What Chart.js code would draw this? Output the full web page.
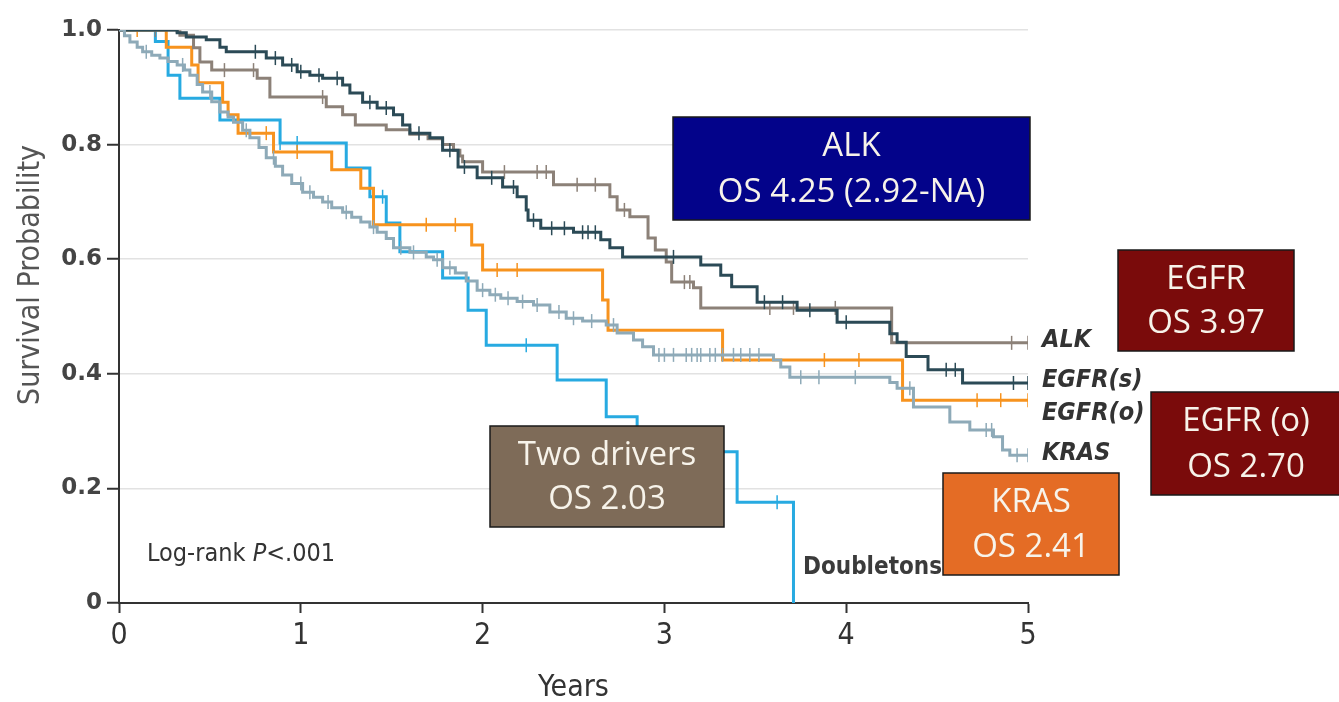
<!DOCTYPE html>
<html>
<head>
<meta charset="utf-8">
<script src="https://cdn.jsdelivr.net/npm/chart.js@4"></script>
<style>
  html, body { margin: 0; padding: 0; background: #fff; }
  #wrap { width: 1339px; height: 702px; }
</style>
</head>
<body>
<div id="wrap"><canvas id="km"></canvas></div>
<script>
// Kaplan-Meier steps: event time (years) and survival after the drop
const alkT = [0, 0.32, 0.335, 0.41, 0.445, 0.51, 0.76, 0.83, 1.14, 1.23, 1.30, 1.47, 1.60, 1.70, 1.78, 1.84, 1.875, 1.89, 2.0, 2.39, 2.70, 2.74, 2.81, 2.91, 2.95, 3.01, 3.04, 3.16, 3.20, 4.25, 5.0];
const alkS = [1.0, 0.997, 0.991, 0.969, 0.944, 0.93, 0.916, 0.883, 0.866, 0.852, 0.834, 0.826, 0.818, 0.81, 0.80, 0.79, 0.78, 0.77, 0.752, 0.73, 0.709, 0.686, 0.674, 0.637, 0.616, 0.595, 0.56, 0.55, 0.515, 0.454, 0.454];
const alkCens = [0.2, 0.58, 0.74, 1.12, 2.12, 2.3, 2.35, 2.52, 2.62, 2.78, 3.11, 3.14, 3.58, 3.71, 3.94, 4.91, 5.0];

const egfrsT = [0, 0.32, 0.37, 0.48, 0.555, 0.59, 0.81, 0.90, 0.98, 1.05, 1.12, 1.23, 1.27, 1.34, 1.42, 1.51, 1.56, 1.60, 1.71, 1.78, 1.865, 1.97, 2.11, 2.19, 2.24, 2.25, 2.32, 2.5, 2.65, 2.70, 2.77, 3.2, 3.31, 3.37, 3.51, 3.73, 3.95, 4.24, 4.28, 4.33, 4.45, 4.64, 5.0];
const egfrsS = [1.0, 0.995, 0.988, 0.983, 0.97, 0.962, 0.951, 0.939, 0.927, 0.921, 0.916, 0.904, 0.89, 0.874, 0.864, 0.852, 0.834, 0.82, 0.812, 0.79, 0.761, 0.742, 0.726, 0.709, 0.686, 0.668, 0.654, 0.647, 0.634, 0.62, 0.604, 0.59, 0.572, 0.552, 0.525, 0.511, 0.49, 0.47, 0.455, 0.43, 0.407, 0.384, 0.384];
const egfrsCens = [0.75, 0.86, 0.95, 1.0, 1.1, 1.2, 1.38, 1.47, 1.65, 1.82, 1.9, 2.05, 2.17, 2.28, 2.38, 2.45, 2.55, 2.58, 2.62, 3.05, 3.55, 3.65, 3.8, 4.0, 4.55, 4.6, 4.92, 5.0];

const egfroT = [0, 0.26, 0.40, 0.435, 0.57, 0.6, 0.655, 0.85, 1.17, 1.33, 1.40, 1.94, 2.0, 2.66, 2.69, 3.32, 4.31, 5.0];
const egfroS = [1.0, 0.97, 0.939, 0.908, 0.874, 0.852, 0.82, 0.787, 0.756, 0.724, 0.66, 0.625, 0.581, 0.529, 0.476, 0.424, 0.354, 0.354];
const egfroCens = [0.1, 0.81, 0.98, 1.69, 1.85, 2.08, 2.19, 3.88, 4.07, 4.72, 4.85, 5.0];

const krasT = [0, 0.03, 0.06, 0.10, 0.13, 0.18, 0.225, 0.27, 0.32, 0.36, 0.39, 0.43, 0.46, 0.51, 0.555, 0.6, 0.63, 0.68, 0.72, 0.77, 0.81, 0.86, 0.90, 0.95, 1.01, 1.07, 1.12, 1.17, 1.23, 1.28, 1.33, 1.38, 1.42, 1.47, 1.51, 1.6, 1.69, 1.73, 1.78, 1.85, 1.91, 1.97, 2.04, 2.10, 2.19, 2.28, 2.37, 2.46, 2.55, 2.68, 2.74, 2.83, 2.88, 2.94, 3.60, 3.64, 3.69, 4.24, 4.28, 4.37, 4.57, 4.68, 4.81, 4.86, 4.9, 5.0];
const krasS = [1.0, 0.99, 0.979, 0.97, 0.962, 0.956, 0.951, 0.945, 0.939, 0.93, 0.921, 0.905, 0.892, 0.875, 0.857, 0.848, 0.839, 0.825, 0.812, 0.795, 0.777, 0.762, 0.747, 0.732, 0.717, 0.708, 0.70, 0.69, 0.682, 0.673, 0.665, 0.656, 0.647, 0.636, 0.62, 0.612, 0.604, 0.599, 0.585, 0.576, 0.562, 0.546, 0.538, 0.532, 0.526, 0.52, 0.508, 0.497, 0.492, 0.485, 0.471, 0.459, 0.447, 0.433, 0.424, 0.412, 0.394, 0.385, 0.375, 0.342, 0.316, 0.302, 0.29, 0.267, 0.258, 0.258];
const krasCens = [0.15, 0.35, 0.5, 0.7, 0.85, 1.0, 1.05, 1.15, 1.25, 1.4, 1.55, 1.62, 1.75, 1.82, 2.0, 2.07, 2.14, 2.22, 2.3, 2.42, 2.5, 2.6, 2.72, 2.97, 3.0, 3.05, 3.12, 3.15, 3.18, 3.2, 3.25, 3.28, 3.32, 3.38, 3.42, 3.47, 3.52, 3.75, 3.85, 4.05, 4.35, 4.77, 4.8, 4.94, 5.0];

const dblT = [0, 0.2, 0.27, 0.335, 0.555, 0.886, 1.25, 1.38, 1.47, 1.545, 1.78, 1.92, 2.02, 2.41, 2.68, 2.85, 3.40, 3.71];
const dblS = [1.0, 0.98, 0.921, 0.881, 0.843, 0.803, 0.759, 0.709, 0.663, 0.613, 0.567, 0.511, 0.45, 0.389, 0.325, 0.264, 0.176, 0];
const dblCens = [0.886, 0.98, 1.45, 2.24, 3.62];

const yTicks = [0, 0.2, 0.4, 0.6, 0.8, 1.0];
const xTicks = [0, 1, 2, 3, 4, 5];

const COND = '"DejaVu Sans Condensed", "Liberation Sans Narrow", "DejaVu Sans", sans-serif';
const BOXFONT = '"Open Sans", Lato, sans-serif';

function steps(ts, ss) {
    return ts.map((t, i) => ({ x: t, y: ss[i] }));
}

// survival value at a censor time, read from the step arrays
function survAt(ts, ss, t) {
    let v = ss[0];
    for (let i = 0; i < ts.length; i++) {
        if (ts[i] <= t + 1e-9) v = ss[i];
    }
    return v;
}

function censorMarks(ts, ss, cens) {
    return cens.map(t => ({ x: t, y: survAt(ts, ss, t) }));
}

const series = [
    { name: 'KRAS', t: krasT, s: krasS, c: krasCens, color: '#8eaab8' },
    { name: 'EGFR(s)', t: egfrsT, s: egfrsS, c: egfrsCens, color: '#2b4a56' },
    { name: 'ALK', t: alkT, s: alkS, c: alkCens, color: '#8c8178' },
    { name: 'EGFR(o)', t: egfroT, s: egfroS, c: egfroCens, color: '#f7931e' },
    { name: 'Doubletons', t: dblT, s: dblS, c: dblCens, color: '#27aae1' }
];

const datasets = [];
series.forEach(sr => {
    datasets.push({
        label: sr.name,
        data: steps(sr.t, sr.s),
        borderColor: sr.color,
        borderWidth: 3,
        stepped: 'before',
        pointRadius: 0,
        fill: false
    });
    datasets.push({
        label: sr.name + ' censored',
        data: censorMarks(sr.t, sr.s, sr.c),
        showLine: false,
        pointStyle: 'line',
        rotation: 90,
        pointRadius: 7,
        borderColor: sr.color,
        borderWidth: 1.5
    });
});

// boxes and free text drawn on top of the plot
const boxes = [
    { x: 673, y: 117, w: 357, h: 103, fill: '#03038a', lines: ['ALK', 'OS 4.25 (2.92-NA)'] },
    { x: 1118, y: 250, w: 176, h: 101, fill: '#7a0b0b', lines: ['EGFR', 'OS 3.97'] },
    { x: 1151, y: 392, w: 190, h: 103, fill: '#7a0b0b', lines: ['EGFR (o)', 'OS 2.70'] },
    { x: 490, y: 426, w: 234, h: 101, fill: '#7e6b58', lines: ['Two drivers', 'OS 2.03'] },
    { x: 943, y: 473, w: 176, h: 102, fill: '#e46c25', lines: ['KRAS', 'OS 2.41'] }
];

const endLabels = [
    { text: 'ALK', y: 340 },
    { text: 'EGFR(s)', y: 380 },
    { text: 'EGFR(o)', y: 413 },
    { text: 'KRAS', y: 453 }
];

const overlay = {
    id: 'overlay',
    afterDatasetsDraw(chart) {
        const ctx = chart.ctx;
        ctx.save();
        ctx.textBaseline = 'middle';

        // y axis title
        ctx.save();
        ctx.translate(31, 275);
        ctx.rotate(-Math.PI / 2);
        ctx.fillStyle = '#555';
        ctx.textAlign = 'center';
        ctx.font = '30px ' + COND;
        ctx.fillText('Survival Probability', 0, 0);
        ctx.restore();

        // series names at the right end of the curves
        ctx.fillStyle = '#333';
        ctx.font = 'italic bold 25px ' + COND;
        ctx.textAlign = 'left';
        endLabels.forEach(l => ctx.fillText(l.text, 1042, l.y));

        // log-rank
        const lr = '25px ' + COND;
        ctx.font = lr;
        ctx.fillText('Log-rank ', 147, 554);
        const w1 = ctx.measureText('Log-rank ').width;
        ctx.font = 'italic ' + lr;
        ctx.fillText('P', 147 + w1, 554);
        const w2 = ctx.measureText('P').width;
        ctx.font = lr;
        ctx.fillText('<.001', 147 + w1 + w2, 554);

        ctx.fillStyle = '#3b3b3b';
        ctx.font = 'bold 24px ' + COND;
        ctx.fillText('Doubletons', 803, 568);

        // annotation boxes
        boxes.forEach(b => {
            ctx.fillStyle = b.fill;
            ctx.fillRect(b.x, b.y, b.w, b.h);
            ctx.strokeStyle = '#1a1a1a';
            ctx.lineWidth = 1.5;
            ctx.strokeRect(b.x, b.y, b.w, b.h);
            ctx.fillStyle = '#f7f3ea';
            ctx.font = '33px ' + BOXFONT;
            ctx.textAlign = 'center';
            const cx = b.x + b.w / 2;
            ctx.fillText(b.lines[0], cx, b.y + b.h * 0.29);
            ctx.fillText(b.lines[1], cx, b.y + b.h * 0.73);
        });

        // x axis title
        ctx.fillStyle = '#333';
        ctx.font = '30px ' + COND;
        ctx.textAlign = 'center';
        const xs = chart.scales.x;
        ctx.fillText('Years', (xs.left + xs.right) / 2, 688);
        ctx.restore();
    }
};

new Chart(document.getElementById('km'), {
    type: 'line',
    data: { datasets: datasets },
    plugins: [overlay],
    options: {
        responsive: true,
        maintainAspectRatio: false,
        animation: false,
        layout: { padding: { top: 30, right: 311, left: 0, bottom: 0 } },
        plugins: {
            legend: { display: false },
            tooltip: { enabled: false }
        },
        scales: {
            x: {
                type: 'linear',
                min: 0,
                max: 5,
                afterFit: (scale) => { scale.height = 99; },
                afterBuildTicks: (scale) => { scale.ticks = xTicks.map(v => ({ value: v })); },
                grid: { drawOnChartArea: false, tickColor: '#333', tickLength: 10, tickWidth: 2 },
                border: { color: '#333', width: 2 },
                ticks: {
                    color: '#333',
                    font: { family: COND, size: 30 },
                    padding: 5,
                    maxRotation: 0
                },
                title: { display: false }
            },
            y: {
                min: 0,
                max: 1.0,
                afterFit: (scale) => { scale.width = 119; },
                afterBuildTicks: (scale) => { scale.ticks = yTicks.map(v => ({ value: v })); },
                grid: { color: '#e2e2e2', lineWidth: 1.5, tickColor: '#333', tickLength: 12, tickWidth: 2 },
                border: { color: '#333', width: 2 },
                ticks: {
                    color: '#444',
                    font: { family: '"DejaVu Sans", sans-serif', size: 23, weight: 'bold' },
                    padding: 5,
                    callback: (v) => v === 0 ? '0' : v.toFixed(1)
                },
                title: { display: false }
            }
        }
    }
});
</script>
</body>
</html>
